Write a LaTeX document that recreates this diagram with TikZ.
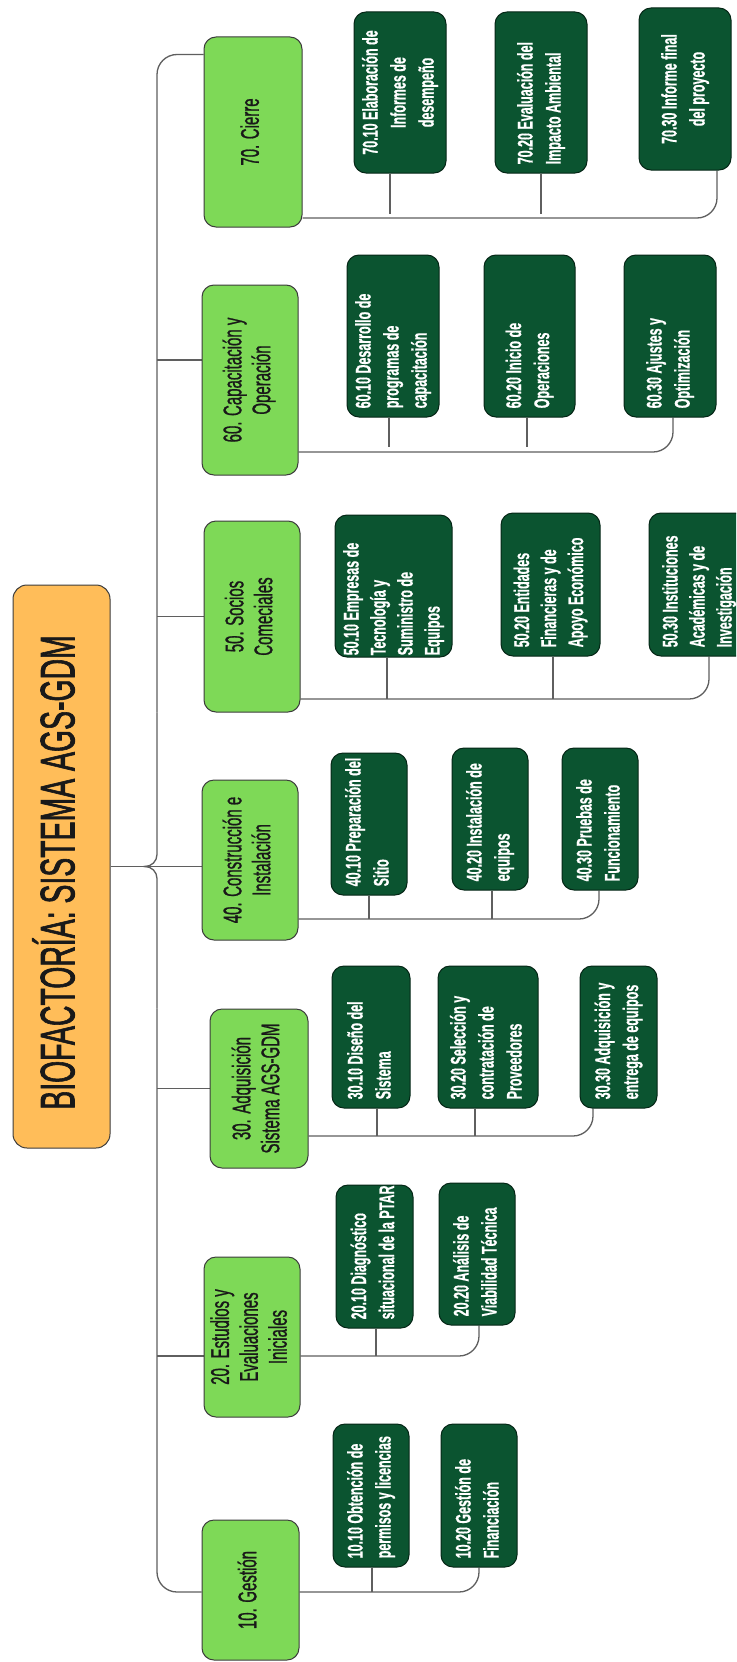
\documentclass[tikz,border=0pt]{standalone}
\usepackage{graphicx}
\usepackage{fontspec}
\setmainfont{Liberation Sans}
\newfontfamily\rootfont[FakeBold=2]{Liberation Sans}
\newfontfamily\phasefont[FakeBold=1.3]{Liberation Sans}
\newfontfamily\taskfont[FakeBold=0.8]{Liberation Sans Bold}
\usetikzlibrary{calc}
\definecolor{rootfill}{HTML}{FFBD59}
\definecolor{phasefill}{HTML}{7ED957}
\definecolor{taskfill}{HTML}{0B5430}
\definecolor{linkgray}{HTML}{5F5F5F}
\definecolor{edgegray}{HTML}{3C3C3C}
\pgfdeclarelayer{background}
\pgfsetlayers{background,main}

% tall, narrow lettering: lines stacked, then stretched across the reading direction
\newcommand\tallstack[2]{\scalebox{1}[1.7]{\begin{tabular}{@{}#1@{}}#2\end{tabular}}}
% task box whose label starts near the lower edge (optional: gap below the label)
\newcommand\taskleft[7][9]{%
  \node[taskbox, dims={#5}{#6}] (#2) at (#3,#4) {};
  \node[tasktext, anchor=west] (#2l) at ([yshift=#1pt]#2.south) {\tallstack{l}{#7}};}
% task box with a centred label
\newcommand\taskcenter[6]{%
  \node[taskbox, dims={#4}{#5}] (#1) at (#2,#3) {};
  \node[tasktext] (#1l) at (#1.center) {\tallstack{c}{#6}};}
% straight drop from a task box down to a branch line
\newcommand\drop[3]{%
  \draw[link] ($(#1.south)+(#2,0)$) -- ($(#1.south |- #3)+(#2,0)$);}

\begin{document}
\begin{tikzpicture}[x=1pt, y=-1pt,
  rootbox/.style={draw=edgegray, line width=1pt, fill=rootfill, rounded corners=14pt, inner sep=0pt},
  phasebox/.style={draw=edgegray, line width=1pt, fill=phasefill, rounded corners=12pt, inner sep=0pt},
  taskbox/.style={draw=black!55!taskfill, line width=1pt, fill=taskfill, rounded corners=12pt, inner sep=0pt},
  dims/.style 2 args={minimum width=#1pt, minimum height=#2pt},
  roottext/.style={rotate=90, inner sep=0pt, text=black!90, font=\rootfont\fontsize{28.4}{32}\selectfont},
  phasetext/.style={rotate=90, inner sep=0pt, text=black!90, font=\phasefont\fontsize{15}{17}\selectfont},
  tasktext/.style={rotate=90, inner sep=0pt, text=white, font=\taskfont\fontsize{12.5}{16.5}\selectfont},
  link/.style={draw=linkgray, line width=1.3pt},
]
\path[use as bounding box] (0,0) rectangle (736,1662);
\clip (0,0) rectangle (736,1662);

% root
\node[rootbox, dims={97}{563}] (root) at (61.5,866.5) {};
\node[roottext] (rootlabel) at ([yshift=-6pt]root.center) {\tallstack{c}{BIOFACTORÍA: SISTEMA AGS-GDM}};

% phases
\node[phasebox, dims={98}{190}] (p70) at (253,132) {};
\node[phasetext] (p70l) at (p70.center) {\tallstack{c}{70. Cierre}};
\node[phasebox, dims={96}{190}] (p60) at (250,380) {};
\node[phasetext] (p60l) at (p60.center) {\tallstack{c}{60. Capacitación y\\Operación}};
\node[phasebox, dims={96}{191}] (p50) at (252,616.5) {};
\node[phasetext] (p50l) at (p50.center) {\tallstack{c}{50. Socios\\Comeciales}};
\node[phasebox, dims={96}{160}] (p40) at (250,860) {};
\node[phasetext] (p40l) at (p40.center) {\tallstack{c}{40. Construcción e\\Instalación}};
\node[phasebox, dims={98}{159}] (p30) at (259,1088.5) {};
\node[phasetext] (p30l) at (p30.center) {\tallstack{c}{30. Adquisición\\Sistema AGS-GDM}};
\node[phasebox, dims={96}{160}] (p20) at (252,1337) {};
\node[phasetext] (p20l) at (p20.center) {\tallstack{c}{20. Estudios y\\Evaluaciones\\Iniciales}};
\node[phasebox, dims={97}{140}] (p10) at (250.5,1590) {};
\node[phasetext] (p10l) at (p10.center) {\tallstack{c}{10. Gestión}};

% tasks
\taskcenter{t7010}{400}{92.5}{92}{161}{70.10 Elaboración de\\Informes de\\desempeño}
\taskleft{t7020}{541}{92.5}{92}{161}{70.20 Evaluación del\\Impacto Ambiental}
\taskcenter{t7030}{685}{89}{92}{162}{70.30 Informe final\\del proyecto}

\taskleft{t6010}{393}{336}{92}{162}{60.10 Desarrollo de\\programas de\\capacitación}
\taskleft{t6020}{529.5}{336}{91}{162}{60.20 Inicio de\\Operaciones}
\taskleft{t6030}{670}{336}{92}{162}{60.30 Ajustes y\\Optimización}

\taskleft[2]{t5010}{393.5}{586}{117}{142}{50.10 Empresas de\\[-0.6pt]Tecnología y\\[-0.6pt]Suministro de\\[-0.6pt]Equipos}
\taskleft{t5020}{550.5}{584.5}{99}{143}{50.20 Entidades\\[-0.6pt]Financieras y de\\[-0.6pt]Apoyo Económico}
\taskleft{t5030}{699}{584.5}{100}{143}{50.30 Instituciones\\[-0.6pt]Académicas y de\\[-0.6pt]Investigación}

\taskleft{t4010}{369}{824}{76}{142}{40.10 Preparación del\\Sitio}
\taskleft{t4020}{490}{819}{76}{142}{40.20 Instalación de\\equipos}
\taskleft{t4030}{600}{819}{76}{142}{40.30 Pruebas de\\Funcionamiento}

\taskleft{t3010}{371}{1037}{78}{142}{30.10 Diseño del\\Sistema}
\taskleft{t3020}{488}{1037}{100}{142}{30.20 Selección y\\contratación de\\Proveedores}
\taskleft{t3030}{618.5}{1037}{77}{142}{30.30 Adquisición y\\entrega de equipos}

\taskleft{t2010}{374.5}{1256.5}{77}{143}{20.10 Diagnóstico\\situacional de la PTAR}
\taskleft{t2020}{477}{1254}{76}{142}{20.20 Análisis de\\Viabilidad Técnica}

\taskleft{t1010}{371}{1495.5}{76}{143}{10.10 Obtención de\\permisos y licencias}
\taskleft{t1020}{479}{1495.5}{76}{143}{10.20 Gestión de\\Financiación}

% branch line levels
\coordinate (trunk) at (157,0);
\coordinate (h70) at (0,218);   \coordinate (e70) at (0,214);
\coordinate (h60) at (0,452);   \coordinate (e60) at (0,447);
\coordinate (h50) at (0,699);
\coordinate (h40) at (0,919);
\coordinate (h30) at (0,1136);
\coordinate (h20) at (0,1356);
\coordinate (h10) at (0,1592);
\coordinate (j) at ($(root.east)+(33,0)$);
\coordinate (c70) at ($(p70.north west)+(0,18)$);
\coordinate (c60) at ($(p60.west)+(0,-20)$);

\begin{pgfonlayer}{background}
\fill[white] (0,0) rectangle (736,1662);

% root to phases
\draw[link] (root.east) -- (j);
\draw[link] (j) -- (p40.west |- j);
\draw[link, rounded corners=12pt] (j) -| (trunk |- p50.south);
\draw[link, rounded corners=20pt] (trunk |- p50.south) |- (c70);
\draw[link, rounded corners=12pt] (j) -| (trunk |- p30.north);
\draw[link, rounded corners=20pt] (trunk |- p30.north) |- (p10.west |- h10);
\draw[link] (trunk |- c60) -- (c60);
\draw[link] (trunk |- p50.west) -- (p50.west);
\draw[link] (trunk |- p30.west) -- (p30.west);
\draw[link] (trunk |- h20) -- (p20.west |- h20);

% phases to tasks
\draw[link, rounded corners=20pt] (p70.east |- h70) -| ($(t7030.south)+(32,0)$);
\drop{t7010}{-10}{e70}
\drop{t7020}{0}{e70}

\draw[link, rounded corners=20pt] (p60.east |- h60) -| ($(t6030.south)+(3,0)$);
\drop{t6010}{-4}{e60}
\drop{t6020}{-2.5}{e60}

\draw[link, rounded corners=20pt] (p50.east |- h50) -| ($(t5030.south)+(10,0)$);
\drop{t5010}{-6.5}{h50}
\drop{t5020}{2.5}{h50}

\draw[link, rounded corners=20pt] (p40.east |- h40) -| ($(t4030.south)+(-1,0)$);
\drop{t4010}{0}{h40}
\drop{t4020}{2}{h40}

\draw[link, rounded corners=20pt] (p30.east |- h30) -| ($(t3030.south)+(-25.5,0)$);
\drop{t3010}{6}{h30}
\drop{t3020}{-13}{h30}

\draw[link, rounded corners=20pt] (p20.east |- h20) -| ($(t2020.south)+(2,0)$);
\drop{t2010}{1.5}{h20}

\draw[link, rounded corners=20pt] (p10.east |- h10) -| (t1020.south);
\drop{t1010}{1}{h10}
\end{pgfonlayer}
\end{tikzpicture}
\end{document}
